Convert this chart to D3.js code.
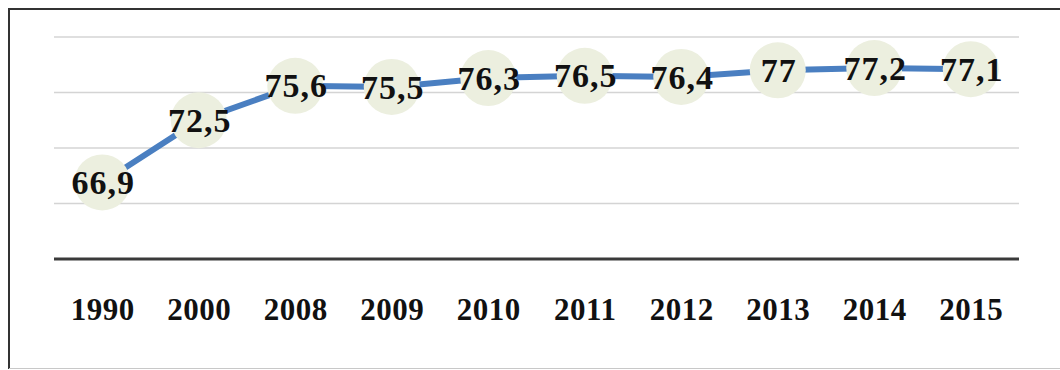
<!DOCTYPE html>
<html>
<head>
<meta charset="utf-8">
<script src="https://cdn.jsdelivr.net/npm/d3@7"></script>
<style>
  html, body { margin: 0; padding: 0; background: #fff; }
  svg { display: block; }
</style>
</head>
<body>
<svg id="chart" width="1060" height="370"></svg>
<script>
const categories = ["1990", "2000", "2008", "2009", "2010", "2011", "2012", "2013", "2014", "2015"];
const values = [66.9, 72.5, 75.6, 75.5, 76.3, 76.5, 76.4, 77, 77.2, 77.1];
const labels = ["66,9", "72,5", "75,6", "75,5", "76,3", "76,5", "76,4", "77", "77,2", "77,1"];
const yTicks = [60, 65, 70, 75, 80];

const svg = d3.select("#chart");
const plot = { left: 54, right: 1019, top: 37, bottom: 259 };

// outer frame
svg.append("line").attr("x1", 9).attr("x2", 1060).attr("y1", 9).attr("y2", 9)
  .attr("stroke", "#333").attr("stroke-width", 2);
svg.append("line").attr("x1", 9).attr("x2", 9).attr("y1", 8).attr("y2", 369)
  .attr("stroke", "#333").attr("stroke-width", 2);
svg.append("line").attr("x1", 9).attr("x2", 1060).attr("y1", 368.5).attr("y2", 368.5)
  .attr("stroke", "#c8c8c8").attr("stroke-width", 1);

const x = d3.scalePoint().domain(categories).range([plot.left, plot.right]).padding(0.5);
const y = d3.scaleLinear().domain([60, 80]).range([plot.bottom, plot.top]);

// gridlines
svg.append("g")
  .selectAll("line")
  .data(yTicks.filter(t => t > 60))
  .join("line")
  .attr("x1", plot.left).attr("x2", plot.right)
  .attr("y1", d => y(d)).attr("y2", d => y(d))
  .attr("stroke", "#d4d4d4").attr("stroke-width", 1.5);

// x axis
const xAxis = svg.append("g")
  .attr("transform", `translate(0,${y(60)})`)
  .call(d3.axisBottom(x).tickSize(0).tickPadding(0));
xAxis.select(".domain").remove();
svg.append("line")
  .attr("x1", plot.left).attr("x2", plot.right)
  .attr("y1", y(60)).attr("y2", y(60))
  .attr("stroke", "#3a3a3a").attr("stroke-width", 3);
xAxis.selectAll("text")
  .attr("y", 61)
  .attr("dy", 0)
  .attr("fill", "#111")
  .style("font-family", "'Liberation Serif', 'Times New Roman', serif")
  .style("font-weight", "bold")
  .style("font-size", "31px")
  .style("letter-spacing", "0.5px");

const data = categories.map((c, i) => ({ c, v: values[i], label: labels[i] }));

// line
svg.append("path")
  .datum(data)
  .attr("fill", "none")
  .attr("stroke", "#4a7fc1")
  .attr("stroke-width", 6)
  .attr("d", d3.line().x(d => x(d.c)).y(d => y(d.v)));

// markers
svg.append("g")
  .selectAll("circle")
  .data(data)
  .join("circle")
  .attr("cx", d => x(d.c))
  .attr("cy", d => y(d.v))
  .attr("r", 28)
  .attr("fill", "#ecefdf");

// labels
svg.append("g")
  .selectAll("text")
  .data(data)
  .join("text")
  .attr("x", d => x(d.c) + 1)
  .attr("y", d => y(d.v))
  .attr("dy", "0.34em")
  .attr("text-anchor", "middle")
  .attr("fill", "#111")
  .style("font-family", "'Liberation Serif', 'Times New Roman', serif")
  .style("font-weight", "bold")
  .style("font-size", "34px")
  .style("letter-spacing", "1px")
  .text(d => d.label);
</script>
</body>
</html>
